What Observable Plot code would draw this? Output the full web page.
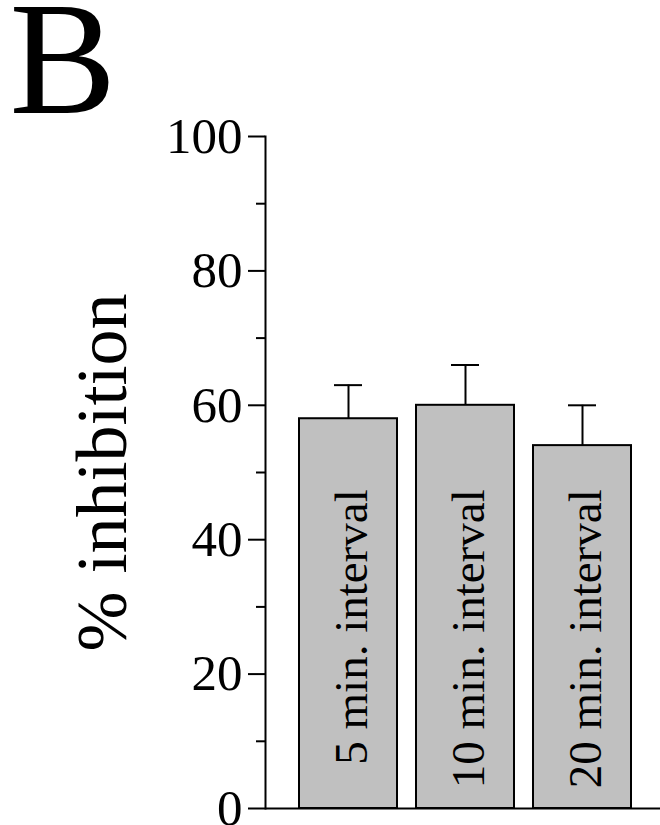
<!DOCTYPE html>
<html>
<head>
<meta charset="utf-8">
<script src="https://cdn.jsdelivr.net/npm/d3@7"></script>
<script src="https://cdn.jsdelivr.net/npm/@observablehq/plot@0.6"></script>
<style>
  html, body { margin: 0; padding: 0; background: #fff; }
  #chart { width: 660px; height: 825px; }
</style>
</head>
<body>
<div id="chart"></div>
<script>
const categories = ["5 min. interval", "10 min. interval", "20 min. interval"];
const values = [58, 60, 54];
const errors = [5, 6, 6];
const majorTicks = [0, 20, 40, 60, 80, 100];
const minorTicks = [10, 30, 50, 70, 90];
const panelLabel = "B";
const yLabel = "% inhibition";
const labelAt = 47.5;

const data = categories.map((c, i) => ({cat: c, value: values[i], upper: values[i] + errors[i]}));
const serif = "'Liberation Serif', 'Times New Roman', serif";

const plot = Plot.plot({
  width: 660,
  height: 825,
  marginLeft: 265,
  marginRight: 0,
  marginTop: 136,
  marginBottom: 17,
  style: {fontFamily: serif, background: "white", color: "black"},
  x: {domain: categories, axis: null, paddingInner: 0.166, paddingOuter: 0.264, align: 0.53},
  y: {domain: [0, 100], axis: null, label: null},
  marks: [
    Plot.barY(data, {x: "cat", y: "value", fill: "#c0c0c0", stroke: "black", strokeWidth: 2}),
    Plot.ruleX(data, {x: "cat", y1: "value", y2: "upper", stroke: "black", strokeWidth: 2}),
    Plot.tickY(data, {x: "cat", y: "upper", stroke: "black", strokeWidth: 2, insetLeft: 35, insetRight: 35}),
    Plot.text(data, {x: "cat", y: () => labelAt, text: "cat", rotate: -90, textAnchor: "end", fontSize: 47, fontFamily: serif, fill: "black", dx: 3}),
    Plot.ruleY([0], {stroke: "black", strokeWidth: 2}),
    Plot.frame({anchor: "left", stroke: "black", strokeWidth: 2}),
    Plot.axisY({ticks: majorTicks, tickSize: 17, tickPadding: 6, tickFormat: d => String(d), fontSize: 51, fontFamily: serif, strokeWidth: 2, label: null, color: "black"}),
    Plot.axisY({ticks: minorTicks, tickSize: 9, tickFormat: () => "", strokeWidth: 2, label: null}),
    Plot.text([yLabel], {frameAnchor: "left", text: d => d, rotate: -90, textAnchor: "middle", lineAnchor: "bottom", dx: -140, fontSize: 72, fontFamily: serif, fill: "black"}),
    Plot.text([panelLabel], {frameAnchor: "top-left", text: d => d, textAnchor: "start", lineAnchor: "bottom", dx: -256, dy: -24, fontSize: 160, fontFamily: serif, fill: "black"})
  ]
});
document.getElementById("chart").appendChild(plot);
</script>
</body>
</html>
